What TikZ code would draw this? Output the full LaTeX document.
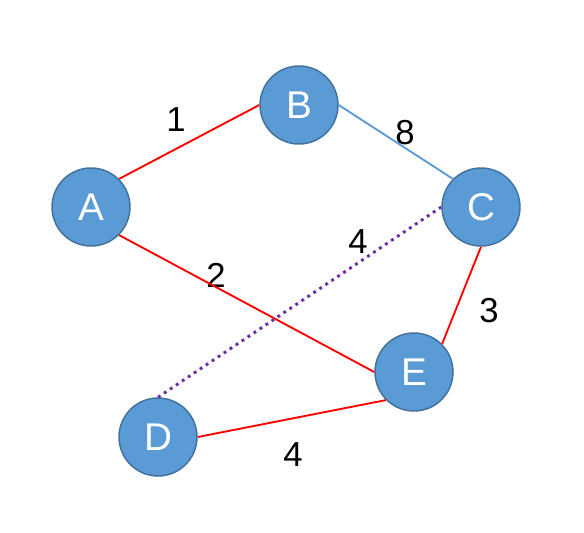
\documentclass[tikz,border=0pt]{standalone}
\usepackage{fontspec}
\setmainfont{Liberation Sans}
\usepackage{tikz}

\definecolor{vfill}{HTML}{5B9BD5}
\definecolor{vline}{HTML}{41719C}
\definecolor{ered}{HTML}{FF0000}
\definecolor{eblue}{HTML}{5B9BD5}
\definecolor{epurple}{HTML}{7030A0}

\tikzset{
  vertex/.style={circle, fill=vfill, draw=vline, line width=1.1pt,
    minimum size=58.5pt, inner sep=0pt, text=white,
    font=\fontsize{29}{29}\selectfont},
  weight/.style={inner sep=0pt, font=\fontsize{26}{26}\selectfont},
  redge/.style={draw=ered, line width=1.4pt},
  bedge/.style={draw=eblue, line width=1.4pt},
  pedge/.style={draw=epurple, line width=2.2pt, dash pattern=on 2.2pt off 3.2pt}
}

\begin{document}
\begin{tikzpicture}[x=0.75pt, y=-0.75pt]
            \useasboundingbox (0,0) rectangle (584,532);

            \node[vertex] (A) at (91,207) {A};
            \node[vertex] (B) at (299,105) {B};
            \node[vertex] (C) at (481,207) {C};
            \node[vertex] (D) at (158,437) {D};
            \node[vertex] (E) at (414,372) {E};

            \node[weight] (wAB) at (176,120) {1};
            \node[weight] (wBC) at (405,133) {8};
            \node[weight] (wCD) at (358,242) {4};
            \node[weight] (wAE) at (216,275) {2};
            \node[weight] (wCE) at (489,311) {3};
            \node[weight] (wDE) at (293,455) {4};

            \draw[redge] (A.north east) -- (B.west);
            \draw[bedge] (B.east) -- (C.north west);
            \draw[redge] (A.south east) -- (E.west);
            \draw[redge] (C.south) -- (E.north east);
            \draw[redge] (D.east) -- (E.south west);
            \draw[pedge] (D.north) -- (C.west);
        \end{tikzpicture}
\end{document}
